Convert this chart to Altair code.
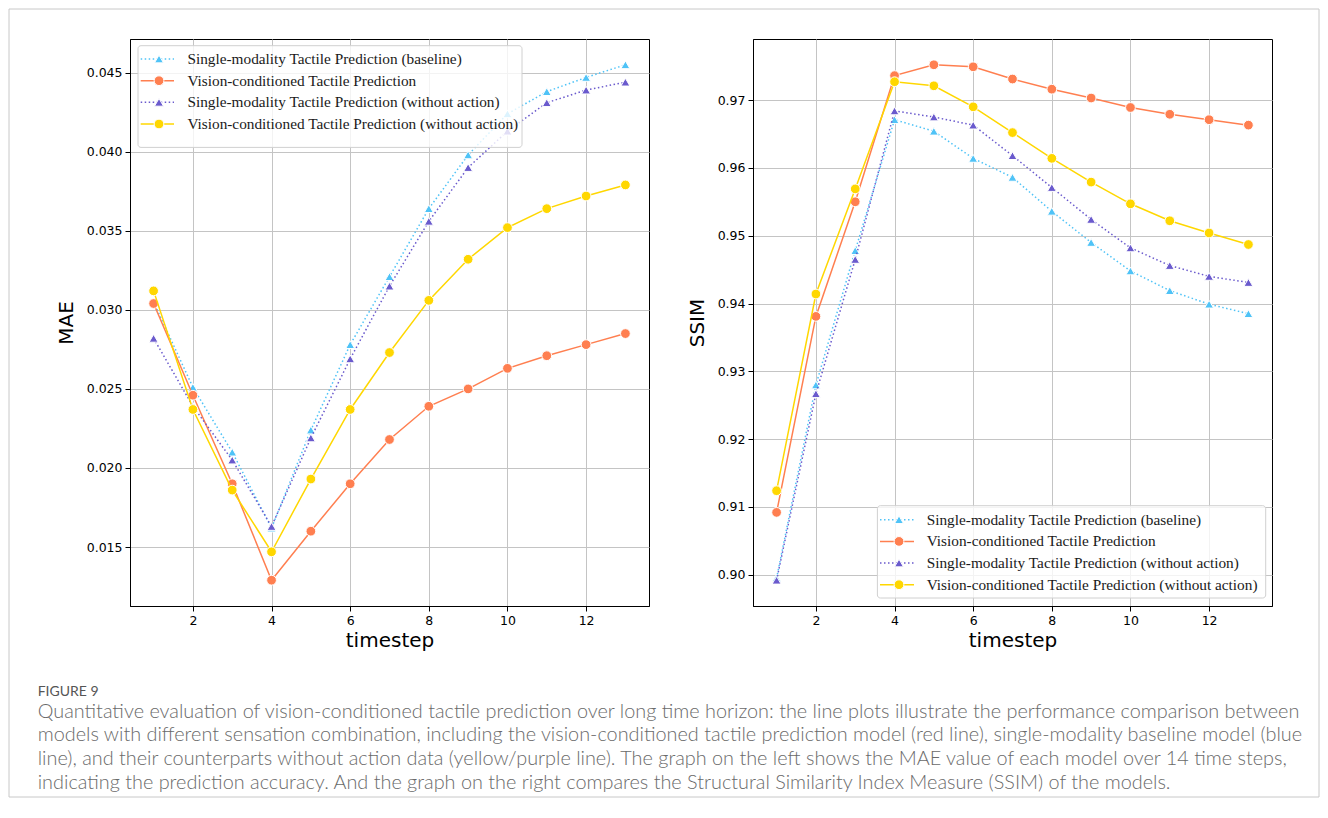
import altair as alt
import pandas as pd

timesteps = list(range(1, 14))
series_names = [
    "Single-modality Tactile Prediction (baseline)",
    "Vision-conditioned Tactile Prediction",
    "Single-modality Tactile Prediction (without action)",
    "Vision-conditioned Tactile Prediction (without action)",
]
series_colors = ["#4FC3F7", "#FF7F50", "#6A5ACD", "#FFD700"]
series_shapes = ["triangle-up", "circle", "triangle-up", "circle"]
series_dotted = [True, False, True, False]

mae_baseline = [0.0305, 0.0251, 0.0210, 0.0162, 0.0224, 0.0278, 0.0321, 0.0364, 0.0398, 0.0424, 0.0438, 0.0447, 0.0455]
mae_vision = [0.0304, 0.0246, 0.0190, 0.0129, 0.0160, 0.0190, 0.0218, 0.0239, 0.0250, 0.0263, 0.0271, 0.0278, 0.0285]
mae_single_noact = [0.0282, 0.0239, 0.0205, 0.0163, 0.0219, 0.0269, 0.0315, 0.0356, 0.0390, 0.0413, 0.0431, 0.0439, 0.0444]
mae_vision_noact = [0.0312, 0.0237, 0.0186, 0.0147, 0.0193, 0.0237, 0.0273, 0.0306, 0.0332, 0.0352, 0.0364, 0.0372, 0.0379]

ssim_baseline = [0.8995, 0.9280, 0.9478, 0.9671, 0.9654, 0.9614, 0.9586, 0.9536, 0.9490, 0.9448, 0.9419, 0.9399, 0.9385]
ssim_vision = [0.9092, 0.9381, 0.9550, 0.9736, 0.9752, 0.9749, 0.9731, 0.9716, 0.9703, 0.9689, 0.9679, 0.9671, 0.9663]
ssim_single_noact = [0.8992, 0.9267, 0.9465, 0.9684, 0.9675, 0.9663, 0.9618, 0.9571, 0.9524, 0.9482, 0.9456, 0.9440, 0.9431]
ssim_vision_noact = [0.9124, 0.9414, 0.9569, 0.9727, 0.9721, 0.9690, 0.9652, 0.9614, 0.9579, 0.9547, 0.9522, 0.9504, 0.9487]

x_ticks = [2, 4, 6, 8, 10, 12]
mae_ticks = [0.015, 0.020, 0.025, 0.030, 0.035, 0.040, 0.045]
ssim_ticks = [0.90, 0.91, 0.92, 0.93, 0.94, 0.95, 0.96, 0.97]

caption_head = "FIGURE 9"
caption_lines = [
    "Quantitative evaluation of vision-conditioned tactile prediction over long time horizon: the line plots illustrate the performance comparison between",
    "models with different sensation combination, including the vision-conditioned tactile prediction model (red line), single-modality baseline model (blue",
    "line), and their counterparts without action data (yellow/purple line). The graph on the left shows the MAE value of each model over 14 time steps,",
    "indicating the prediction accuracy. And the graph on the right compares the Structural Similarity Index Measure (SSIM) of the models.",
]

PW, PH = 519, 567
DOT = [1.5, 2.5]
CIRCLE_SIZE = 95
TRI_SIZE = 80
one_row = alt.Data(values=[{"k": 0}])


def long_df(lists):
    rows = []
    for name, vals in zip(series_names, lists):
        for t, v in zip(timesteps, vals):
            rows.append({"series": name, "timestep": t, "value": v})
    return pd.DataFrame(rows)


def msize(i):
    return CIRCLE_SIZE if series_shapes[i] == "circle" else TRI_SIZE


def legend_layers(bx1, bx2, by1, by2, row_y, lx1, lx2, mx, tx):
    out = [
        alt.Chart(one_row).mark_rect(fill="white", fillOpacity=0.8, stroke="#d0d0d0",
                                     strokeWidth=1, cornerRadius=3).encode(
            x=alt.value(bx1), x2=alt.value(bx2), y=alt.value(by1), y2=alt.value(by2))
    ]
    for i, name in enumerate(series_names):
        rk = dict(color=series_colors[i], strokeWidth=1.5)
        if series_dotted[i]:
            rk["strokeDash"] = DOT
        out.append(alt.Chart(one_row).mark_rule(**rk).encode(
            x=alt.value(lx1), x2=alt.value(lx2), y=alt.value(row_y[i])))
        out.append(alt.Chart(one_row).mark_point(
            shape=series_shapes[i], filled=True, fill=series_colors[i], stroke="white",
            strokeWidth=1, opacity=1, size=msize(i)).encode(
            x=alt.value(mx), y=alt.value(row_y[i])))
        out.append(alt.Chart(one_row).mark_text(
            align="left", baseline="middle", font="Liberation Serif", fontSize=15.3,
            color="#1a1a1a").encode(
            x=alt.value(tx), y=alt.value(row_y[i]), text=alt.value(name)))
    return out


def panel(df, ytitle, ydomain, yticks, yfmt):
    x = alt.X("timestep:Q", scale=alt.Scale(domain=[0.4, 13.6], nice=False, zero=False),
              axis=alt.Axis(values=x_ticks, format="d", title="timestep"))
    y = alt.Y("value:Q", scale=alt.Scale(domain=ydomain, nice=False, zero=False),
              axis=alt.Axis(values=yticks, format=yfmt, title=ytitle))
    layers = []
    for i, name in enumerate(series_names):
        base = alt.Chart(df).transform_filter(alt.datum.series == name)
        lk = dict(color=series_colors[i], strokeWidth=1.5)
        if series_dotted[i]:
            lk["strokeDash"] = DOT
        layers.append(base.mark_line(**lk).encode(x=x, y=y))
        layers.append(base.mark_point(
            shape=series_shapes[i], filled=True, fill=series_colors[i], stroke="white",
            strokeWidth=1, opacity=1, size=msize(i)).encode(x=x, y=y))
    return layers


mae_df = long_df([mae_baseline, mae_vision, mae_single_noact, mae_vision_noact])
ssim_df = long_df([ssim_baseline, ssim_vision, ssim_single_noact, ssim_vision_noact])

left_layers = panel(mae_df, "MAE", [0.01127, 0.04713], mae_ticks, ".3f")
left_layers += legend_layers(8, 392, 6.7, 108.4, [20, 41.7, 63.3, 85], 10.7, 44, 29, 57.4)

frame = alt.Chart(one_row).mark_rect(fill="transparent", stroke="#c8c8c8", strokeWidth=1).encode(
    x=alt.value(-121), x2=alt.value(1189), y=alt.value(-30), y2=alt.value(758))
head = alt.Chart(one_row).mark_text(align="left", baseline="middle", font="Lato", fontSize=14,
                                    color="#555555").encode(
    x=alt.value(-92.3), y=alt.value(652.7), text=alt.value(caption_head))
body = alt.Chart(one_row).mark_text(align="left", baseline="middle", font="Lato", fontSize=19.85,
                                    fontWeight=300, color="#6a6a6a", lineHeight=23.7).encode(
    x=alt.value(-92.3), y=alt.value(672.7), text=alt.value(caption_lines))
left_layers += [frame, head, body]

right_layers = panel(ssim_df, "SSIM", [0.8954, 0.9790], ssim_ticks, ".2f")
right_layers += legend_layers(124.4, 512.7, 466.7, 559, [480.7, 502.4, 524, 545.7], 127, 161, 146, 173.7)

left = alt.layer(*left_layers).properties(width=PW, height=PH)
right = alt.layer(*right_layers).properties(width=PW, height=PH)

chart = alt.hconcat(left, right, spacing=104, bounds="flush").properties(
    padding=0, background="white"
).configure_view(stroke="black", strokeWidth=1).configure_axis(
    domainColor="black", tickColor="black", tickSize=5, tickWidth=1, labelPadding=3,
    gridColor="#c4c4c4", gridWidth=1,
    labelFont="DejaVu Sans", labelFontSize=12.5, labelColor="black",
    titleFont="DejaVu Sans", titleFontSize=20, titleFontWeight="normal", titleColor="black",
).configure_axisY(titlePadding=10).configure_axisX(titlePadding=4)

chart.save("out.html", embed_options={"renderer": "svg", "actions": False})
